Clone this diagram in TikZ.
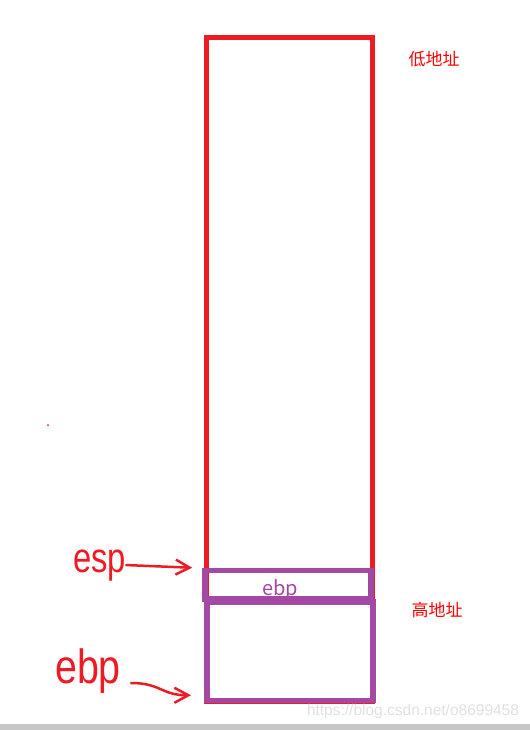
\documentclass[tikz,border=0pt]{standalone}
\usepackage{fontspec}
\setmainfont{Liberation Sans}
\newfontfamily\cjk{Noto Sans CJK SC}
\newfontfamily\handfont[FakeStretch=0.78]{Liberation Sans}
\newfontfamily\handwide[FakeStretch=0.82]{Liberation Sans}
\usetikzlibrary{positioning,arrows.meta,calc}
\definecolor{stackred}{RGB}{237,28,36}
\definecolor{framepurple}{RGB}{163,73,164}

\begin{document}
\begin{tikzpicture}[x=1bp, y=-1bp,
    ->,
    >={Straight Barb[length=14bp,width=15bp]},
    stackbox/.style={%
      rectangle, draw=stackred, line width=5bp, inner sep=0pt,
      minimum width=166bp, minimum height=663.5bp
    },
    framebox/.style={%
      rectangle, draw=framepurple, line width=5.5bp, inner sep=0pt,
      minimum width=166bp
    },
    addr/.style={%
      text=red, font=\cjk\fontsize{17bp}{17bp}\selectfont, inner sep=0pt
    },
    hand/.style={%
      text=stackred, font=\handfont\fontsize{42bp}{42bp}\selectfont,
      inner sep=0pt, anchor=base west
    },
    pointer/.style={draw=stackred, line width=2.5bp, line cap=round}
]
    \useasboundingbox (0,0) rectangle (530,730);

    \node[stackbox] (stack) at (289.5,369.25) {};
    \node[framebox, minimum height=28.5bp] (top)  at (288,584.75)  {};
    \node[framebox, minimum height=98.5bp] (base) at (289.75,651.25) {};

    \node[text=framepurple, font=\cjk\fontsize{20bp}{20bp}\selectfont,
          inner sep=0pt, anchor=base] (slot) at (280,595) {ebp};
    \node[addr] (low)  at (434,59)  {低地址};
    \node[addr] (high) at (437,610) {高地址};

    \node[hand] (esp) at (73,572) {esp};
    \node[hand, font=\handwide\fontsize{48bp}{48bp}\selectfont]
          (ebp) at (55,683) {ebp};

    \draw[pointer] (esp.east) -- ([xshift=-10bp]top.north west);
    \draw[pointer] ([xshift=10bp]ebp.base east)
          .. controls +(30,0) and +(-30,0) .. ($(base.south west)+(-13,-8)$);

    % page bits
    \fill[stackred] (48,425) circle (1bp);
    \node[text=black!12, font=\fontsize{15.5bp}{15.5bp}\selectfont]
          (mark) at (413,711) {https://blog.csdn.net/o8699458};
    \fill[black!22] (0,724) rectangle (530,730);
  \end{tikzpicture}
\end{document}
